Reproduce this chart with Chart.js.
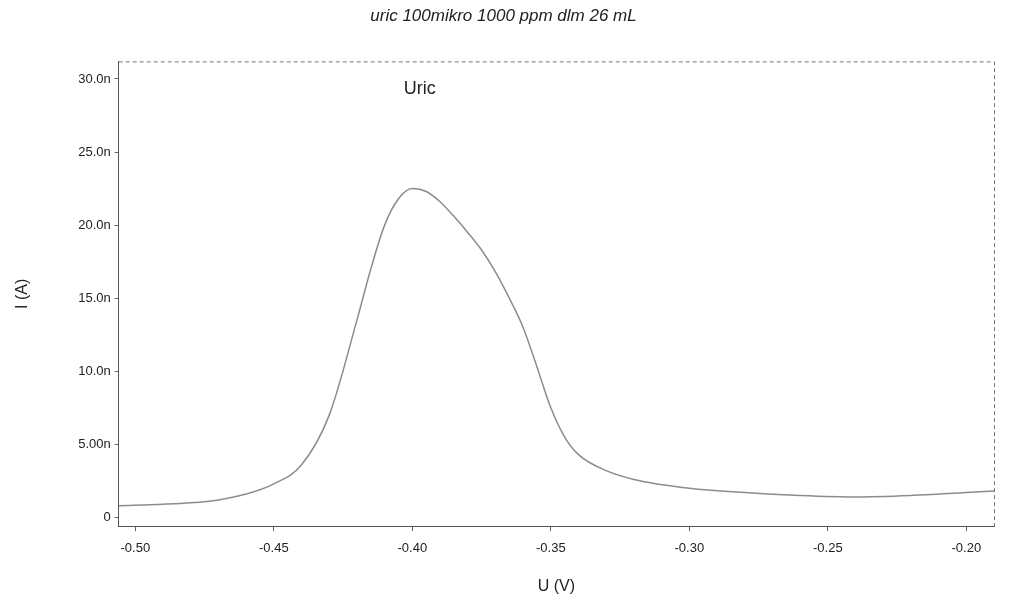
<!DOCTYPE html>
<html lang="id">
<head>
  <meta charset="utf-8">
  <title>uric 100mikro 1000 ppm dlm 26 mL</title>
  <script src="https://cdn.jsdelivr.net/npm/chart.js@4.4.1/dist/chart.umd.min.js"></script>
  <style>
    html, body { margin: 0; padding: 0; background: #fff; }
    #wrap { width: 1025px; height: 616px; }
  </style>
</head>
<body>
  <div id="wrap">
    <canvas id="c" width="1025" height="616"></canvas>
  </div>
  <script>
    // potential (V) and current (nA)
    var potential = [-0.506, -0.49, -0.48, -0.47, -0.46, -0.45, -0.44, -0.43, -0.42, -0.415, -0.41, -0.405,
      -0.40, -0.395, -0.39, -0.385, -0.38, -0.375, -0.37, -0.365, -0.36, -0.355, -0.35, -0.345, -0.34,
      -0.33, -0.32, -0.30, -0.28, -0.26, -0.24, -0.22, -0.20, -0.19];
    var current = [0.8, 0.9, 1.0, 1.2, 1.6, 2.3, 3.6, 7.0, 13.5, 17.0, 20.0, 21.8,
      22.5, 22.3, 21.6, 20.6, 19.5, 18.3, 16.8, 15.0, 13.0, 10.3, 7.5, 5.5, 4.3,
      3.2, 2.6, 2.0, 1.7, 1.5, 1.4, 1.5, 1.7, 1.8];

    var xTicks = [-0.50, -0.45, -0.40, -0.35, -0.30, -0.25, -0.20];
    var yTicks = [0, 5, 10, 15, 20, 25, 30];
    var yTickLabels = ['0', '5.00n', '10.0n', '15.0n', '20.0n', '25.0n', '30.0n'];

    var font = "'Liberation Sans', Arial, sans-serif";

    // dashed frame + series label inside the plot
    var frame = {
      id: 'frame',
      afterDraw: function (chart) {
        var a = chart.chartArea, g = chart.ctx;
        g.save();
        g.strokeStyle = '#777';
        g.lineWidth = 1;
        g.setLineDash([4, 3]);
        g.beginPath();
        g.moveTo(a.left, a.top + 0.5);
        g.lineTo(a.right + 0.5, a.top + 0.5);
        g.lineTo(a.right + 0.5, a.bottom);
        g.stroke();
        g.setLineDash([]);
        g.fillStyle = '#222';
        g.font = '18px ' + font;
        g.textBaseline = 'middle';
        g.fillText('Uric', a.left + 285, a.top + 28);
        g.restore();
      }
    };

    var ctx = document.getElementById('c');
    var cc = new Chart(ctx, {
      type: 'line',
      data: {
        datasets: [{
          label: 'Uric',
          data: potential.map(function (u, i) { return { x: u, y: current[i] }; }),
          borderColor: '#8c8c8c',
          borderWidth: 1.5,
          pointRadius: 0,
          fill: false,
          cubicInterpolationMode: 'monotone'
        }]
      },
      options: {
        responsive: false,
        animation: false,
        layout: { padding: { left: 13, right: 31, top: 6, bottom: 20 } },
        plugins: {
          legend: { display: false },
          tooltip: { enabled: false },
          title: {
            display: true,
            text: 'uric 100mikro 1000 ppm dlm 26 mL',
            color: '#222',
            font: { family: font, size: 17, style: 'italic', weight: 'normal' },
            padding: { top: 0, bottom: 35 }
          }
        },
        scales: {
          x: {
            type: 'linear',
            min: -0.506,
            max: -0.19,
            afterBuildTicks: function (axis) { axis.ticks = xTicks.map(function (v) { return { value: v }; }); },
            ticks: {
              color: '#222',
              font: { family: font, size: 13 },
              padding: 9,
              maxRotation: 0,
              callback: function (v) { return v.toFixed(2); }
            },
            grid: { drawOnChartArea: false, drawTicks: true, tickLength: 5, color: '#666' },
            border: { display: true, color: '#555', dash: [4, 2] },
            title: {
              display: true,
              text: 'U (V)',
              color: '#222',
              font: { family: font, size: 16 },
              padding: { top: 12, bottom: 0 }
            }
          },
          y: {
            type: 'linear',
            min: -0.6,
            max: 31.2,
            afterBuildTicks: function (axis) { axis.ticks = yTicks.map(function (v) { return { value: v }; }); },
            ticks: {
              color: '#222',
              font: { family: font, size: 13 },
              padding: 4,
              callback: function (v) { return yTickLabels[yTicks.indexOf(v)]; }
            },
            grid: { drawOnChartArea: false, drawTicks: true, tickLength: 4, color: '#666' },
            border: { display: true, color: '#555', dash: [4, 2] },
            title: {
              display: true,
              text: 'I (A)',
              color: '#222',
              font: { family: font, size: 16 },
              padding: { top: 0, bottom: 42 }
            }
          }
        }
      },
      plugins: [frame]
    });
  </script>
</body>
</html>
